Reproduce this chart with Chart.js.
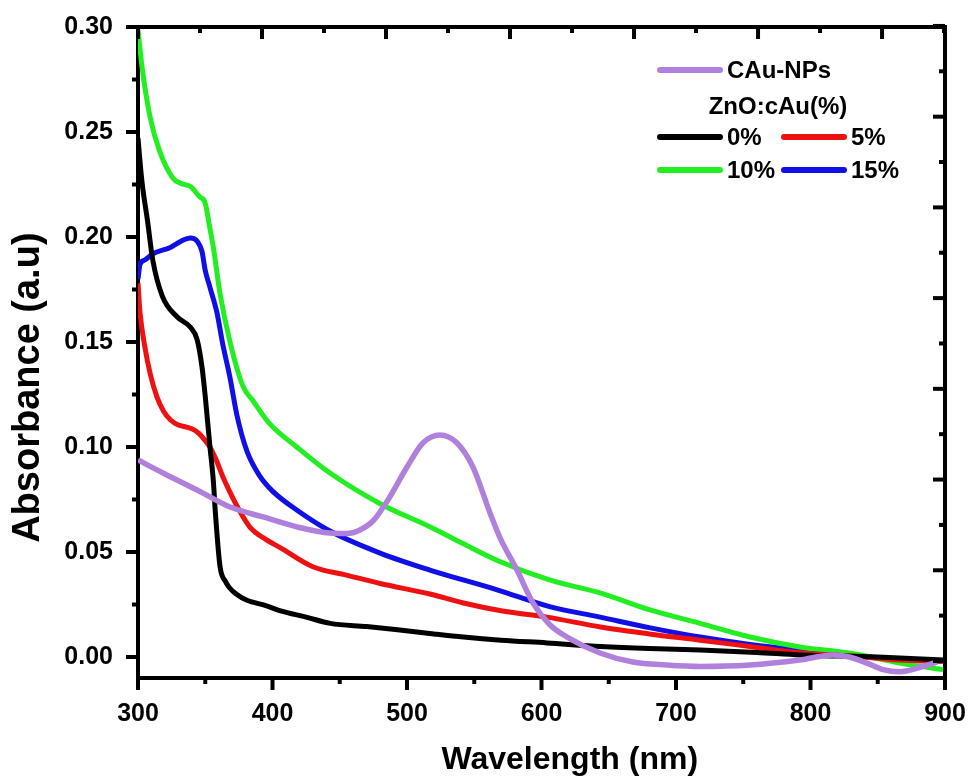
<!DOCTYPE html>
<html lang="en">
<head>
  <meta charset="UTF-8" />
  <title>UV-Vis Absorbance</title>
  <script src="https://cdn.jsdelivr.net/npm/chart.js"></script>
  <style>
    * { margin: 0; padding: 0; box-sizing: border-box; }
    body { background: #fff; overflow: hidden; }
    .wrap { position: relative; width: 973px; height: 782px; }
  </style>
</head>
<body>
  <div class="wrap"><canvas id="absChart"></canvas></div>

  <script>
    // spectra: wavelength (nm) / absorbance (a.u)
    const cauNm  = [300, 318.6, 344, 368.4, 393, 418, 442.7, 455, 465, 475, 487, 500, 512, 524.5, 537, 549, 561.7, 569, 581.8, 593.7, 606, 619, 643.5, 668, 693, 718, 755, 792, 816.7, 829, 842, 854, 866.5, 881, 894];
    const cauAbs = [0.0938, 0.0876, 0.0795, 0.0714, 0.0667, 0.062, 0.059, 0.0588, 0.0605, 0.065, 0.076, 0.0905, 0.102, 0.1057, 0.102, 0.0905, 0.0686, 0.057, 0.0414, 0.0257, 0.0155, 0.0095, 0.0019, -0.0024, -0.0038, -0.0045, -0.0038, -0.0014, 0.001, 0.0, -0.0029, -0.006, -0.007, -0.005, -0.0024];

    const zno0Nm  = [300, 301.5, 303, 307, 311, 318, 329, 339, 344, 347.6, 350, 353.5, 356, 357.5, 361, 365, 368, 373, 381, 395, 406, 425, 443, 470, 493, 520, 542, 570, 604, 644, 680, 718, 760, 792, 850, 899];
    const zno0Abs = [0.247, 0.236, 0.226, 0.208, 0.189, 0.172, 0.162, 0.157, 0.151, 0.138, 0.124, 0.100, 0.084, 0.069, 0.043, 0.036, 0.033, 0.030, 0.027, 0.0245, 0.022, 0.019, 0.016, 0.0145, 0.013, 0.011, 0.0095, 0.008, 0.0067, 0.005, 0.004, 0.0033, 0.0022, 0.001, 0.000, -0.0014];

    const zno5Nm  = [300, 301.5, 305, 309, 314, 319, 324, 330, 336, 342, 346, 350, 353.5, 358, 363, 368, 374, 383, 395, 406, 430, 455, 480, 517, 542, 570, 604, 644, 680, 718, 755, 792, 830, 866, 899];
    const zno5Abs = [0.178, 0.164, 0.148, 0.135, 0.124, 0.117, 0.113, 0.1105, 0.1095, 0.108, 0.106, 0.103, 0.100, 0.094, 0.086, 0.079, 0.0714, 0.062, 0.056, 0.052, 0.043, 0.039, 0.035, 0.030, 0.0257, 0.022, 0.019, 0.0143, 0.011, 0.008, 0.005, 0.002, 0.0005, -0.0014, -0.002];

    const zno10Nm  = [300, 303, 309, 316, 326, 332, 339, 346, 349.8, 353.5, 355.8, 361, 368.4, 378, 385.5, 398, 418, 442.7, 480, 517, 541.6, 569, 606, 643.5, 680.7, 718, 755, 792, 829, 866.5, 898.5];
    const zno10Abs = [0.2986, 0.281, 0.257, 0.241, 0.228, 0.2255, 0.224, 0.219, 0.2165, 0.204, 0.196, 0.173, 0.150, 0.129, 0.122, 0.111, 0.100, 0.0876, 0.073, 0.062, 0.054, 0.0455, 0.0367, 0.0305, 0.0224, 0.016, 0.0095, 0.0048, 0.0019, -0.0029, -0.006];

    const zno15Nm  = [300, 301.5, 305, 311, 324, 332, 339, 344, 347.6, 350, 353.5, 358.7, 363, 368.4, 373.6, 381, 390.7, 400, 418, 442.7, 480, 517, 567, 606, 643.5, 680, 718, 755, 792, 830, 866.5, 898.5];
    const zno15Abs = [0.180, 0.187, 0.189, 0.192, 0.195, 0.198, 0.1995, 0.198, 0.193, 0.184, 0.176, 0.164, 0.149, 0.133, 0.115, 0.098, 0.086, 0.079, 0.070, 0.060, 0.0495, 0.0414, 0.032, 0.024, 0.019, 0.014, 0.0095, 0.006, 0.0033, 0.001, -0.0014, -0.002];

    const xTicks = [300, 400, 500, 600, 700, 800, 900];
    const yTicks = [0, 0.05, 0.10, 0.15, 0.20, 0.25, 0.30];

    const FONT = '"Liberation Sans", Arial, sans-serif';

    function toPoints(xs, ys) {
      return xs.map((x, i) => ({ x: x, y: ys[i] }));
    }

    function line(label, xs, ys, color, width) {
      return {
        label: label,
        data: toPoints(xs, ys),
        borderColor: color,
        backgroundColor: color,
        borderWidth: width,
        pointRadius: 0,
        cubicInterpolationMode: 'monotone',
        fill: false
      };
    }

    // tick marks of the frame. Bottom/left follow the scale ticks (outward),
    // top/right are the mirrored axes of the original, which use their own,
    // slightly tighter spacing and point inward.
    const frameTicks = {
      id: 'frameTicks',
      afterDraw(chart) {
        const ctx = chart.ctx;
        const a = chart.chartArea;
        const xs = chart.scales.x;
        const ys = chart.scales.y;
        const mark = (x1, y1, x2, y2) => {
          ctx.beginPath();
          ctx.moveTo(x1, y1);
          ctx.lineTo(x2, y2);
          ctx.stroke();
        };
        ctx.save();
        ctx.strokeStyle = '#000';
        ctx.lineWidth = 4;

        xs.ticks.forEach((t, i) => {
          const p = xs.getPixelForValue(t.value);
          mark(p, a.bottom, p, a.bottom + (i % 2 === 0 ? 12 : 6));
        });
        ys.ticks.forEach((t, i) => {
          const p = ys.getPixelForValue(t.value);
          mark(a.left, p, a.left - (i % 2 === 0 ? 12 : 6), p);
        });

        const topStep = 46.1;                         // nm per top tick
        for (let k = 0; k <= 13; k++) {
          const p = xs.getPixelForValue(300 + k * topStep);
          mark(p, a.top, p, a.top + (k % 2 === 0 ? 12 : 6));
        }
        const rightStart = -0.0019, rightStep = 0.0216; // a.u per right tick
        for (let k = 0; k <= 14; k++) {
          const p = ys.getPixelForValue(rightStart + k * rightStep);
          mark(a.right, p, a.right - (k % 2 === 0 ? 12 : 6), p);
        }
        ctx.restore();
      }
    };

    // axis titles (placed like the original, a bit off-centre)
    const axisTitles = {
      id: 'axisTitles',
      afterDraw(chart) {
        const ctx = chart.ctx;
        const a = chart.chartArea;
        ctx.save();
        ctx.fillStyle = '#000';
        ctx.textAlign = 'center';
        ctx.textBaseline = 'middle';
        ctx.font = 'bold 32px ' + FONT;
        ctx.fillText('Wavelength (nm)', a.left + a.width * 0.535, 760);
        ctx.translate(29, a.top + a.height * 0.554);
        ctx.rotate(-Math.PI / 2);
        ctx.font = 'bold 38px ' + FONT;
        ctx.fillText('Absorbance (a.u)', 0, 0);
        ctx.restore();
      }
    };

    // legend with the "ZnO:cAu(%)" header between the entries
    const sampleLegend = {
      id: 'sampleLegend',
      afterDraw(chart) {
        const ctx = chart.ctx;
        const ds = chart.data.datasets;
        ctx.save();
        ctx.font = 'bold 24px ' + FONT;
        ctx.textBaseline = 'middle';
        ctx.lineCap = 'round';
        const item = (d, x, y) => {
          ctx.strokeStyle = d.borderColor;
          ctx.lineWidth = 6;
          ctx.beginPath();
          ctx.moveTo(x, y);
          ctx.lineTo(x + 60, y);
          ctx.stroke();
          ctx.fillStyle = '#000';
          ctx.textAlign = 'left';
          ctx.fillText(d.label, x + 67, y + 1);
        };
        item(ds[0], 660, 70);
        ctx.fillStyle = '#000';
        ctx.textAlign = 'center';
        ctx.fillText('ZnO:cAu(%)', 778, 107);
        item(ds[1], 660, 137);
        item(ds[2], 784, 137);
        item(ds[3], 660, 170);
        item(ds[4], 784, 170);
        ctx.restore();
      }
    };

    const border = { display: true, color: '#000', width: 4 };
    // invisible tick marks only used to push the labels away from the axis
    const spacerGrid = (len) => ({
      display: true,
      drawOnChartArea: false,
      drawTicks: true,
      tickLength: len,
      color: 'rgba(0,0,0,0)',
      tickColor: 'rgba(0,0,0,0)'
    });
    const hiddenGrid = { display: false, drawTicks: false };

    new Chart(document.getElementById('absChart'), {
      type: 'line',
      data: {
        datasets: [
          line('CAu-NPs', cauNm, cauAbs, '#b081dc', 5.5),
          line('0%', zno0Nm, zno0Abs, '#000000', 5),
          line('5%', zno5Nm, zno5Abs, '#ee1111', 5),
          line('10%', zno10Nm, zno10Abs, '#22ee22', 5),
          line('15%', zno15Nm, zno15Abs, '#1010e6', 5)
        ]
      },
      options: {
        responsive: true,
        maintainAspectRatio: false,
        animation: false,
        layout: { padding: { left: 0, right: 28, top: 27, bottom: 0 } },
        plugins: {
          legend: { display: false },
          tooltip: { enabled: false }
        },
        scales: {
          x: {
            type: 'linear',
            position: 'bottom',
            min: 300,
            max: 900,
            grid: spacerGrid(18),
            border: border,
            ticks: {
              stepSize: 50,
              includeBounds: false,
              autoSkip: false,
              maxRotation: 0,
              padding: 3,
              color: '#000',
              font: { family: FONT, size: 25, weight: 'bold' },
              callback: (v) => xTicks.includes(v) ? String(v) : ''
            },
            afterFit: (s) => { s.height = 104; }
          },
          y: {
            type: 'linear',
            position: 'left',
            min: -0.01,
            max: 0.30,
            grid: spacerGrid(22),
            border: border,
            ticks: {
              stepSize: 0.025,
              includeBounds: false,
              autoSkip: false,
              padding: 3,
              color: '#000',
              font: { family: FONT, size: 25, weight: 'bold' },
              callback: (v) => yTicks.some(t => Math.abs(t - v) < 1e-6) ? v.toFixed(2) : ''
            },
            afterFit: (s) => { s.width = 138; }
          },
          // top and right frame lines
          x2: {
            type: 'linear',
            position: 'top',
            min: 300,
            max: 900,
            grid: hiddenGrid,
            border: border,
            ticks: { display: false },
            afterFit: (s) => { s.height = 0; }
          },
          y2: {
            type: 'linear',
            position: 'right',
            min: -0.01,
            max: 0.30,
            grid: hiddenGrid,
            border: border,
            ticks: { display: false },
            afterFit: (s) => { s.width = 0; }
          }
        }
      },
      plugins: [frameTicks, axisTitles, sampleLegend]
    });
  </script>
</body>
</html>
